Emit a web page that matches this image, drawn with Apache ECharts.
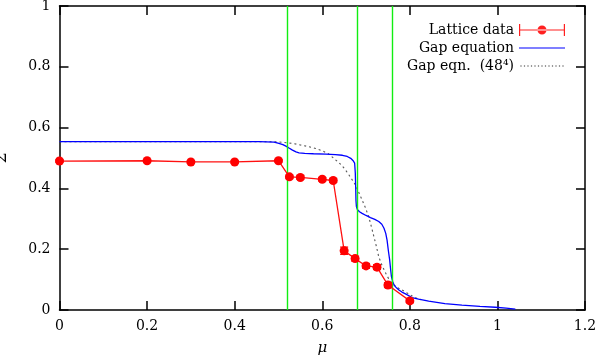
<!DOCTYPE html>
<html>
<head>
<meta charset="utf-8">
<script src="https://cdn.jsdelivr.net/npm/echarts@6/dist/echarts.min.js"></script>
<style>html,body{margin:0;padding:0;background:#fff}#c{width:599px;height:361px}</style>
</head>
<body>
<div id="c"></div>
<script>
// ---- data ----
const xTicks = [0, 0.2, 0.4, 0.6, 0.8, 1, 1.2];
const yTicks = [0, 0.2, 0.4, 0.6, 0.8, 1];

const latticeMu    = [0, 0.2, 0.3, 0.4, 0.5, 0.525, 0.55, 0.6, 0.625, 0.65, 0.675, 0.7, 0.725, 0.75, 0.8];
const latticeSigma = [0.490, 0.491, 0.487, 0.487, 0.491, 0.438, 0.436, 0.430, 0.426, 0.195, 0.169, 0.145, 0.141, 0.082, 0.030];
const latticeErr   = [0.004, 0.004, 0.004, 0.004, 0.004, 0.006, 0.006, 0.006, 0.006, 0.012, 0.008, 0.008, 0.008, 0.008, 0.006];

const gapMu = [0, 0.3, 0.456, 0.49, 0.501, 0.51, 0.517, 0.525, 0.532, 0.54, 0.547, 0.56, 0.58, 0.608, 0.63, 0.646, 0.657, 0.665, 0.67, 0.674,
  0.6755, 0.6765, 0.677, 0.678, 0.680, 0.685, 0.691, 0.70, 0.710, 0.720, 0.729, 0.736, 0.741, 0.745, 0.748, 0.751, 0.754, 0.756, 0.758,
  0.761, 0.764, 0.770, 0.775, 0.782, 0.790, 0.805, 0.820, 0.843, 0.88, 0.919, 0.96, 0.995, 1.02, 1.041];
const gapSigma = [0.554, 0.554, 0.554, 0.552, 0.548, 0.544, 0.539, 0.532, 0.526, 0.520, 0.517, 0.515, 0.514, 0.513, 0.511, 0.509, 0.505, 0.499, 0.492, 0.483,
  0.45, 0.395, 0.36, 0.34, 0.331, 0.323, 0.318, 0.311, 0.304, 0.298, 0.291, 0.282, 0.269, 0.252, 0.230, 0.195, 0.164, 0.135, 0.110,
  0.093, 0.082, 0.072, 0.066, 0.059, 0.053, 0.041, 0.036, 0.029, 0.021, 0.016, 0.012, 0.009, 0.006, 0.003];

const gap48Mu = [0, 0.45, 0.50, 0.532, 0.55, 0.570, 0.585, 0.600, 0.615, 0.631, 0.643, 0.653, 0.663, 0.672, 0.676, 0.684, 0.691, 0.699, 0.706,
  0.712, 0.718, 0.724, 0.729, 0.737, 0.745, 0.752, 0.760, 0.770, 0.782, 0.795, 0.813, 0.825];
const gap48Sigma = [0.554, 0.554, 0.553, 0.548, 0.543, 0.537, 0.531, 0.524, 0.513, 0.493, 0.478, 0.461, 0.440, 0.420, 0.411, 0.385, 0.362, 0.335, 0.307,
  0.275, 0.241, 0.207, 0.175, 0.145, 0.121, 0.102, 0.088, 0.075, 0.066, 0.055, 0.040, 0.034];

const transitionLines = [0.517, 0.678, 0.762];

const seriesNames = ['Lattice data', 'Gap equation', 'Gap eqn.  (48\u2074)'];

// ---- chart ----
const FONT = 'DejaVu Serif';
const zip = (a, b) => a.map((v, i) => [v, b[i]]);

// legend icon paths (46 x 12 box)
const lineIcon = 'path://M0,0 L0.01,0 L0.01,0.01 Z M0,5.5 L46,5.5 L46,6.5 L0,6.5 Z M0,12 L0.01,12 L0.01,11.99 Z';
let dotIcon = 'path://M0,0 L0.01,0 L0.01,0.01 Z M0,12 L0.01,12 L0.01,11.99 Z';
for (let x = 0; x < 45; x += 3.5) dotIcon += ' M' + x + ',5.5 L' + (x + 1.2) + ',5.5 L' + (x + 1.2) + ',6.5 L' + x + ',6.5 Z';
const latticeIcon = 'path://M0,0 L1.2,0 L1.2,12 L0,12 Z M44.8,0 L46,0 L46,12 L44.8,12 Z M0,5.4 L46,5.4 L46,6.6 L0,6.6 Z M18.5,6 A4.5,4.5 0 1,0 27.5,6 A4.5,4.5 0 1,0 18.5,6 Z';

const axisCommon = {
  type: 'value',
  axisLine: { show: true, onZero: false, lineStyle: { color: '#000', width: 1.5 } },
  axisTick: { show: true, inside: true, length: 9, lineStyle: { color: '#000', width: 1.5 } },
  splitLine: { show: false },
  axisLabel: { color: '#000', fontFamily: FONT, fontSize: 14, margin: 9 },
  nameTextStyle: { color: '#000', fontFamily: FONT, fontSize: 15 }
};

const chart = echarts.init(document.getElementById('c'), null, { renderer: 'canvas' });
chart.setOption({
  animation: false,
  backgroundColor: '#fff',
  grid: { left: 59.5, right: 14, top: 6, bottom: 51, containLabel: false, outerBoundsMode: 'none' },
  xAxis: [
    Object.assign({}, axisCommon, {
      min: 0, max: 1.2, interval: 0.2, position: 'bottom',
      name: '\u03bc', nameLocation: 'middle', nameGap: 31,
      nameTextStyle: { color: '#000', fontFamily: FONT, fontSize: 15, fontStyle: 'italic' },
      axisLabel: Object.assign({}, axisCommon.axisLabel, { formatter: v => String(+v.toFixed(1)) })
    }),
    Object.assign({}, axisCommon, {
      min: 0, max: 1.2, interval: 0.2, position: 'top', axisLabel: { show: false }
    })
  ],
  yAxis: [
    Object.assign({}, axisCommon, {
      min: 0, max: 1, interval: 0.2, position: 'left',
      name: '\u03a3', nameLocation: 'middle', nameGap: 50, nameRotate: 90,
      axisLabel: Object.assign({}, axisCommon.axisLabel, { formatter: v => String(+v.toFixed(1)) })
    }),
    Object.assign({}, axisCommon, {
      min: 0, max: 1, interval: 0.2, position: 'right', axisLabel: { show: false }
    })
  ],
  legend: {
    orient: 'vertical',
    align: 'right',
    right: 29,
    top: 18,
    itemWidth: 46,
    itemHeight: 12,
    itemGap: 4,
    textStyle: { color: '#000', fontFamily: FONT, fontSize: 14 },
    data: [
      { name: seriesNames[0], icon: latticeIcon, itemStyle: { color: '#ff2020', borderWidth: 0 } },
      { name: seriesNames[1], icon: lineIcon, itemStyle: { color: '#0000ff', borderWidth: 0 } },
      { name: seriesNames[2], icon: dotIcon, itemStyle: { color: '#333', borderWidth: 0 } }
    ]
  },
  series: [
    {
      name: 'lines',
      type: 'line',
      data: [],
      markLine: {
        silent: true,
        symbol: 'none',
        label: { show: false },
        lineStyle: { color: '#11ee11', width: 1.4, type: 'solid' },
        data: transitionLines.map(v => ({ xAxis: v }))
      }
    },
    {
      name: seriesNames[2],
      type: 'line',
      data: zip(gap48Mu, gap48Sigma),
      showSymbol: false,
      symbol: 'none',
      lineStyle: { color: '#555', width: 1.1, type: [2, 3] },
      itemStyle: { color: '#555' },
      z: 3
    },
    {
      name: seriesNames[1],
      type: 'line',
      data: zip(gapMu, gapSigma),
      showSymbol: false,
      symbol: 'none',
      lineStyle: { color: '#0000ff', width: 1.3 },
      itemStyle: { color: '#0000ff' },
      z: 4
    },
    {
      name: seriesNames[0],
      type: 'line',
      data: zip(latticeMu, latticeSigma),
      symbol: 'circle',
      symbolSize: 9,
      lineStyle: { color: '#ff1010', width: 1.3 },
      itemStyle: { color: '#ff0000' },
      z: 5
    },
    {
      name: 'errors',
      type: 'custom',
      z: 5,
      data: latticeMu.map((m, i) => [m, latticeSigma[i] - latticeErr[i], latticeSigma[i] + latticeErr[i]]),
      renderItem: function (params, api) {
        const lo = api.coord([api.value(0), api.value(1)]);
        const hi = api.coord([api.value(0), api.value(2)]);
        const w = 4;
        const st = { stroke: '#ff0000', lineWidth: 1.2 };
        return {
          type: 'group',
          children: [
            { type: 'line', shape: { x1: lo[0], y1: lo[1], x2: hi[0], y2: hi[1] }, style: st },
            { type: 'line', shape: { x1: lo[0] - w, y1: lo[1], x2: lo[0] + w, y2: lo[1] }, style: st },
            { type: 'line', shape: { x1: hi[0] - w, y1: hi[1], x2: hi[0] + w, y2: hi[1] }, style: st }
          ]
        };
      }
    }
  ]
});
</script>
</body>
</html>
